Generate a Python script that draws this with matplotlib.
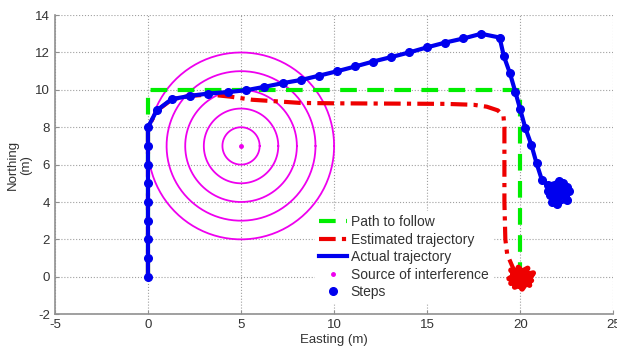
import matplotlib
matplotlib.use('Agg')
import matplotlib.pyplot as plt
import numpy as np

plt.rcParams['font.family'] = ['Liberation Sans', 'DejaVu Sans']
plt.rcParams['axes.unicode_minus'] = False

# Path to follow
path_x = [0, 0, 20, 20]
path_y = [0, 10, 10, 0]

# Estimated trajectory
est_x = [0, 0, 0.5, 1.3, 2.3, 3.3, 4.4, 5.6, 7.0, 8.2, 10.0, 12.0, 14.0, 16.0,
         17.5, 18.2, 18.8, 19.1, 19.15, 19.15, 19.2, 19.3, 19.6, 20.0]
est_y = [0, 8, 8.9, 9.5, 9.68, 9.75, 9.64, 9.47, 9.38, 9.3, 9.28, 9.27, 9.26, 9.25,
         9.2, 9.1, 8.9, 8.6, 8.0, 4.0, 2.0, 1.2, 0.5, 0.0]
est_blob_x = [20.0, 19.5, 20.6, 19.7, 20.4, 19.4, 20.7, 20.1, 19.6, 20.5, 19.9, 20.3, 19.5, 20.0, 20.6, 19.8]
est_blob_y = [0.0, 0.35, -0.2, -0.55, 0.45, -0.1, 0.2, -0.65, 0.1, -0.45, 0.5, 0.0, -0.35, 0.25, 0.1, -0.2]

# Actual trajectory (steps)
act_x = [0, 0, 0, 0, 0, 0, 0, 0, 0, 0.47, 1.27, 2.26, 3.22, 4.28, 5.27, 6.25,
         7.24, 8.23, 9.2, 10.18, 11.13, 12.08, 13.05, 14.03, 14.98, 15.97, 16.95,
         17.9, 18.89, 19.12, 19.45, 19.73, 20.0, 20.27, 20.6, 20.88, 21.16,
         21.5, 22.1, 21.8, 22.5, 22.0, 21.6, 22.4, 22.2, 21.7, 22.6, 21.9, 22.3,
         21.5, 22.0, 22.5, 21.8, 22.2]
act_y = [0, 1, 2, 3, 4, 5, 6, 7, 8, 8.9, 9.5, 9.68, 9.8, 9.88, 9.98, 10.16,
         10.36, 10.53, 10.76, 11.0, 11.25, 11.51, 11.75, 12.0, 12.27, 12.53, 12.75,
         13.0, 12.8, 11.8, 10.88, 9.91, 8.95, 7.97, 7.05, 6.06, 5.19,
         4.9, 5.1, 4.5, 4.8, 4.2, 4.4, 4.3, 4.9, 4.0, 4.6, 4.7, 5.0,
         4.6, 3.9, 4.1, 4.8, 4.4]

# Source of interference
src_x = [5]
src_y = [7]
radii = [1, 2, 3, 4, 5]

fig = plt.figure(figsize=(6.17, 3.51), dpi=100)
ax = fig.add_axes([0.089, 0.105, 0.905, 0.852])

t = np.linspace(0, 2 * np.pi, 200)
for r in radii:
    ax.plot(src_x[0] + r * np.cos(t), src_y[0] + r * np.sin(t), color='#ee00ee', lw=1.3)

ax.plot(path_x, path_y, color='#00ee00', ls='--', lw=3, dashes=(4, 2.5), label='Path to follow')
ax.plot(est_x, est_y, color='#ee0000', ls='-.', lw=3, dashes=(4, 1.5, 1, 1.5), label='Estimated trajectory')
ax.plot(est_blob_x, est_blob_y, color='#ee0000', lw=4)
ax.plot(act_x, act_y, color='#0000ee', lw=3, label='Actual trajectory')
ax.plot(src_x, src_y, ls='none', marker='.', color='#ee00ee', ms=5, label='Source of interference')
ax.plot(act_x, act_y, ls='none', marker='o', color='#0000ee', ms=5.5, label='Steps')

ax.set_xlim(-5, 25)
ax.set_ylim(-2, 14)
ax.set_xticks(range(-5, 26, 5))
ax.set_yticks(range(-2, 15, 2))
ax.grid(True, ls=':', color='#a0a0a0', lw=0.8)
for s in ['top', 'right']:
    ax.spines[s].set_visible(False)
for s in ['left', 'bottom']:
    ax.spines[s].set_color('#909090')
    ax.spines[s].set_linewidth(1.2)
ax.tick_params(direction='in', length=3, colors='#909090', labelcolor='#333333', labelsize=9.5)

ax.set_xlabel('Easting (m)', fontsize=9.5, color='#333333', labelpad=2)
ax.set_ylabel('Northing\n(m)', fontsize=9.5, color='#333333', labelpad=2)

leg = ax.legend(loc='upper left', bbox_to_anchor=(0.465, 0.345), fontsize=10,
                frameon=True, fancybox=False, edgecolor='white', framealpha=1,
                handlelength=2.0, handletextpad=0.3, labelspacing=0.25,
                borderpad=0.3, borderaxespad=0)
for txt in leg.get_texts():
    txt.set_color('#333333')

fig.savefig('out.png', dpi=100)
